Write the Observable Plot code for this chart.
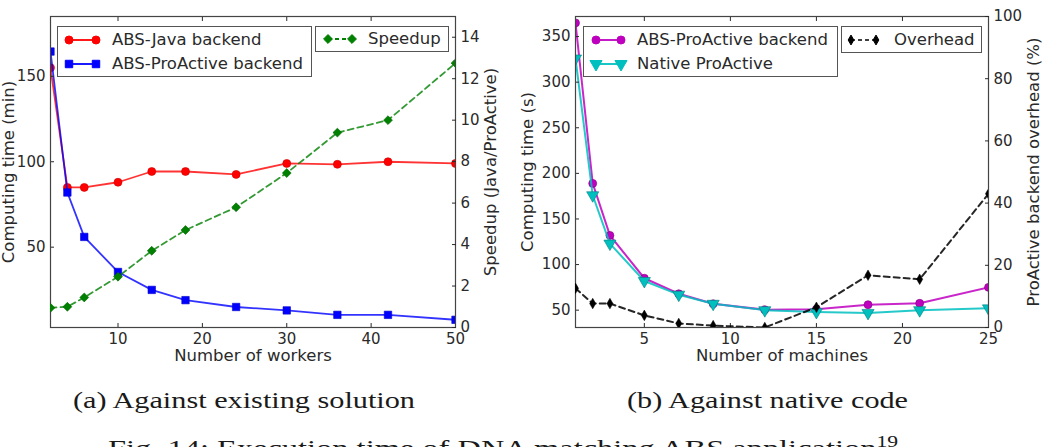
<!DOCTYPE html>
<html>
<head>
<meta charset="utf-8">
<script src="https://cdn.jsdelivr.net/npm/d3@7"></script>
<script src="https://cdn.jsdelivr.net/npm/@observablehq/plot@0.6"></script>
<style>
  html, body { margin: 0; padding: 0; background: #fff; }
  #wrap { position: relative; width: 1044px; height: 447px; overflow: hidden; background: #fff; }
  .panel { position: absolute; top: 0; }
  .panel svg { position: absolute; left: 0; top: 0; }
  .legend { position: absolute; box-sizing: border-box; border: 1.3px solid #555; background: #fff;
            font-family: "DejaVu Sans"; font-size: 16.5px; color: #2a2a2a; }
  .legend .item { position: absolute; left: 0; height: 24px; width: 100%; }
  .legend .item svg { position: absolute; top: 0; }
  .legend .item span { position: absolute; line-height: 24px; white-space: nowrap; }
  .cap { position: absolute; font-family: "Liberation Serif"; font-size: 24px; line-height: 24px;
         color: #1a1a1a; white-space: nowrap; transform-origin: 0 0; }
  .cap sup { font-size: 16px; vertical-align: 9px; line-height: 0; }
</style>
</head>
<body>
<div id="wrap">
  <div class="panel" id="pa" style="left:0;width:510px;height:372px"></div>
  <div class="panel" id="pb" style="left:510px;width:534px;height:372px"></div>
</div>
<script>
// ---------- data (a) ----------
const workers = [2, 4, 6, 10, 14, 18, 24, 30, 36, 42, 50];
const javaTime = [155, 85, 85, 88, 94.3, 94.3, 92.6, 99, 98.5, 100, 99];
const proActiveTime = [164.5, 82, 56, 35.5, 25, 19, 15, 13, 10.4, 10.4, 7.5];
const speedup = [0.95, 1.0, 1.45, 2.45, 3.7, 4.7, 5.8, 7.45, 9.4, 10.0, 12.75];
const workerTicks = [10, 20, 30, 40, 50];
const timeTicksA = [50, 100, 150];
const speedupTicks = [0, 2, 4, 6, 8, 10, 12, 14];

// ---------- data (b) ----------
const machines = [1, 2, 3, 5, 7, 9, 12, 15, 18, 21, 25];
const absProActive = [365, 189, 132, 85, 68, 57, 50.5, 51, 56, 57.5, 75];
const nativeProActive = [326, 176, 123, 82, 67, 57, 50, 48, 47, 50, 52];
const overhead = [12.6, 7.7, 7.7, 3.9, 1.3, 0.6, 0, 6.5, 16.8, 15.5, 43];
const machineTicks = [5, 10, 15, 20, 25];
const timeTicksB = [50, 100, 150, 200, 250, 300, 350];
const overheadTicks = [0, 20, 40, 60, 80, 100];

const tableA = workers.map((w, i) => ({w, java: javaTime[i], pro: proActiveTime[i], speed: speedup[i]}));
const tableB = machines.map((m, i) => ({m, abs: absProActive[i], nat: nativeProActive[i], over: overhead[i]}));

const TXT = "#2a2a2a";
const baseStyle = {background: "transparent", fontFamily: "DejaVu Sans", fontSize: "15px", color: TXT, overflow: "visible"};
const H = 372;
const LBL = {fill: TXT, fontSize: 16.5, textAnchor: "middle", lineAnchor: "middle"};

// ---------- panel (a) ----------
const geomA = {width: 510, height: H, marginLeft: 50, marginRight: 55, marginTop: 16, marginBottom: 45};
const a1 = Plot.plot({
  ...geomA, style: baseStyle,
  x: {domain: [2, 50]},
  y: {domain: [3, 185]},
  marks: [
    Plot.line(tableA, {x: "w", y: "java", stroke: "#ff0000", strokeWidth: 1.8, strokeOpacity: 0.8, clip: true}),
    Plot.dot(tableA, {x: "w", y: "java", r: 4, fill: "#ff0000", stroke: "#cc0000", strokeWidth: 0.6, clip: true}),
    Plot.line(tableA, {x: "w", y: "pro", stroke: "#0000ff", strokeWidth: 1.8, strokeOpacity: 0.8, clip: true}),
    Plot.dot(tableA, {x: "w", y: "pro", symbol: "square", r: 4.2, fill: "#0000ff", stroke: "#0000cc", strokeWidth: 0.6, clip: true}),
    Plot.axisX({ticks: workerTicks, tickSize: -4, tickPadding: 10, label: null}),
    Plot.axisX({anchor: "top", ticks: workerTicks, tickSize: -4, tickFormat: () => "", label: null}),
    Plot.axisY({ticks: timeTicksA, tickSize: -4, tickPadding: 9, label: null}),
    Plot.text(["Computing time (min)"], {frameAnchor: "left", rotate: -90, dx: -42, ...LBL}),
    Plot.text(["Number of workers"], {frameAnchor: "bottom", dy: 28, ...LBL}),
    Plot.frame({stroke: "#444", strokeWidth: 1.2})
  ]
});
const a2 = Plot.plot({
  ...geomA, style: baseStyle,
  x: {domain: [2, 50], axis: null},
  y: {domain: [0, 15]},
  marks: [
    Plot.line(tableA, {x: "w", y: "speed", stroke: "#008000", strokeWidth: 1.8, strokeOpacity: 0.8, strokeDasharray: "6,4", clip: true}),
    Plot.dot(tableA, {x: "w", y: "speed", symbol: "diamond2", r: 4, fill: "#008000", stroke: "#006400", strokeWidth: 0.6, clip: true}),
    Plot.axisY({anchor: "right", ticks: speedupTicks, tickSize: -4, tickPadding: 9, label: null}),
    Plot.text(["Speedup (Java/ProActive)"], {frameAnchor: "right", rotate: -90, dx: 35, ...LBL})
  ]
});
document.getElementById("pa").append(a1, a2);

// ---------- panel (b) ----------
const geomB = {width: 534, height: H, marginLeft: 65, marginRight: 56, marginTop: 16, marginBottom: 45};
const b1 = Plot.plot({
  ...geomB, style: baseStyle,
  x: {domain: [1, 25]},
  y: {domain: [31, 372]},
  marks: [
    Plot.line(tableB, {x: "m", y: "abs", stroke: "#bf00bf", strokeWidth: 2, strokeOpacity: 0.85, clip: true}),
    Plot.dot(tableB, {x: "m", y: "abs", r: 4, fill: "#bf00bf", stroke: "#800080", strokeWidth: 0.6, clip: true}),
    Plot.line(tableB, {x: "m", y: "nat", stroke: "#00bfbf", strokeWidth: 2, strokeOpacity: 0.85, clip: true}),
    Plot.dot(tableB, {x: "m", y: "nat", symbol: "triangle", rotate: 180, r: 4.5, fill: "#00bfbf", stroke: "#008080", strokeWidth: 0.6, clip: true}),
    Plot.axisX({ticks: machineTicks, tickSize: -4, tickPadding: 10, label: null}),
    Plot.axisX({anchor: "top", ticks: machineTicks, tickSize: -4, tickFormat: () => "", label: null}),
    Plot.axisY({ticks: timeTicksB, tickSize: -4, tickPadding: 9, label: null}),
    Plot.text(["Computing time (s)"], {frameAnchor: "left", rotate: -90, dx: -48, ...LBL}),
    Plot.text(["Number of machines"], {frameAnchor: "bottom", dy: 28, ...LBL}),
    Plot.frame({stroke: "#444", strokeWidth: 1.2})
  ]
});
const b2 = Plot.plot({
  ...geomB, style: baseStyle,
  x: {domain: [1, 25], axis: null},
  y: {domain: [0, 100]},
  marks: [
    Plot.line(tableB, {x: "m", y: "over", stroke: "#000", strokeWidth: 2, strokeOpacity: 0.85, strokeDasharray: "6,4", clip: true}),
    Plot.dot(tableB, {x: "m", y: "over", symbol: "diamond", r: 3.2, fill: "#000", stroke: "#000", strokeWidth: 0.5, clip: true}),
    Plot.axisY({anchor: "right", ticks: overheadTicks, tickSize: -4, tickPadding: 9, label: null}),
    Plot.text(["ProActive backend overhead (%)"], {frameAnchor: "right", rotate: -90, dx: 45, ...LBL})
  ]
});
document.getElementById("pb").append(b1, b2);

// ---------- legends ----------
const wrap = document.getElementById("wrap");
function legend(box, items) {
  const div = document.createElement("div");
  div.className = "legend";
  Object.assign(div.style, {left: box.left + "px", top: box.top + "px", width: box.width + "px", height: box.height + "px"});
  items.forEach((it, i) => {
    const row = document.createElement("div");
    row.className = "item";
    row.style.top = (box.pad + i * 24) + "px";
    const w = box.m2 + 8;
    const svg = d3.create("svg").attr("width", w).attr("height", 24).style("left", "0px");
    svg.append("line").attr("x1", box.m1).attr("x2", box.m2).attr("y1", 12).attr("y2", 12)
      .attr("stroke", it.color).attr("stroke-width", it.sw || 1.8).attr("stroke-dasharray", it.dash || null);
    const sym = d3.symbol(it.symbol, Math.PI * it.r * it.r);
    [box.m1, box.m2].forEach(cx => {
      svg.append("path").attr("d", sym())
        .attr("transform", `translate(${cx},12) rotate(${it.rot || 0})`)
        .attr("fill", it.color).attr("stroke", it.color);
    });
    row.append(svg.node());
    const sp = document.createElement("span");
    sp.textContent = it.label;
    sp.style.left = box.tx + "px";
    row.append(sp);
    div.append(row);
  });
  wrap.append(div);
}
legend({left: 57, top: 26, width: 255, height: 51, pad: 1, m1: 11, m2: 38, tx: 54}, [
  {label: "ABS-Java backend", color: "#ff0000", symbol: d3.symbolCircle, r: 4},
  {label: "ABS-ProActive backend", color: "#0000ff", symbol: d3.symbolSquare, r: 4.2}
]);
legend({left: 315, top: 26, width: 134, height: 26, pad: 0, m1: 12, m2: 36, tx: 52}, [
  {label: "Speedup", color: "#008000", symbol: d3.symbolDiamond2, r: 4, dash: "4,3"}
]);
legend({left: 583, top: 26, width: 255, height: 51, pad: 1, m1: 12, m2: 37, tx: 53}, [
  {label: "ABS-ProActive backend", color: "#bf00bf", symbol: d3.symbolCircle, r: 4},
  {label: "Native ProActive", color: "#00bfbf", symbol: d3.symbolTriangle, r: 4.5, rot: 180}
]);
legend({left: 841, top: 26, width: 141, height: 27, pad: 1, m1: 9, m2: 34, tx: 52}, [
  {label: "Overhead", color: "#000", symbol: d3.symbolDiamond, r: 3, dash: "4,3", sw: 1.5}
]);

// ---------- captions ----------
function caption(html, left, top, targetWidth) {
  const d = document.createElement("div");
  d.className = "cap";
  d.innerHTML = html;
  d.style.left = left + "px";
  d.style.top = top + "px";
  wrap.append(d);
  const w = d.getBoundingClientRect().width;
  if (targetWidth && w > 0) d.style.transform = `scaleX(${targetWidth / w})`;
}
caption("(a) Against existing solution", 73, 388, 342);
caption("(b) Against native code", 627, 388, 281);
caption("Fig. 14: Execution time of DNA matching ABS application<sup>19</sup>", 108, 436, 790);
</script>
</body>
</html>
